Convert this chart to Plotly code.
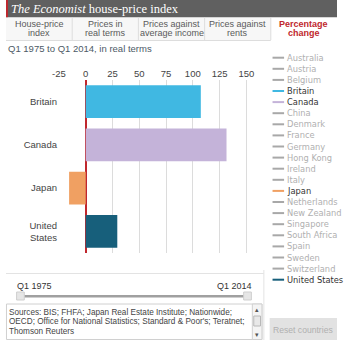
import plotly.graph_objects as go

W, H = 344, 340

countries = ["Britain", "Canada", "Japan", "United States"]
country_labels = ["Britain", "Canada", "Japan", "United<br>States"]
pct_change = [107.5, 131.5, -15.5, 29.5]
bar_colors = ["#40b8e2", "#c4b3d9", "#f0a062", "#175f7b"]

x_ticks = [-25, 0, 25, 50, 75, 100, 125, 150]

legend_names = ["Australia", "Austria", "Belgium", "Britain", "Canada", "China",
                "Denmark", "France", "Germany", "Hong Kong", "Ireland", "Italy",
                "Japan", "Netherlands", "New Zealand", "Singapore", "South Africa",
                "Spain", "Sweden", "Switzerland", "United States"]
active_colors = {"Britain": "#40b8e2", "Canada": "#c4b3d9", "Japan": "#f0a062",
                 "United States": "#175f7b"}

tabs = [("House-price", "index"), ("Prices in", "real terms"), ("Prices against", "average income"),
        ("Prices against", "rents"), ("Percentage", "change")]

sources_lines = ["Sources: BIS; FHFA; Japan Real Estate Institute; Nationwide;",
                 "OECD; Office for National Statistics; Standard &amp; Poor's; Teratnet;",
                 "Thomson Reuters"]

FONT = "Liberation Sans"
LFONT = "DejaVu Sans"


def xp(px):
    return px / W


def yp(py):
    return 1 - py / H


fig = go.Figure()
fig.add_trace(go.Bar(
    x=pct_change, y=countries, orientation="h",
    marker=dict(color=bar_colors, line=dict(width=0)),
    width=0.76, hoverinfo="skip",
))

shapes = []
annotations = []


def txt(x, y, s, size, color, family=FONT, xanchor="left"):
    annotations.append(dict(xref="paper", yref="paper", x=xp(x), y=yp(y), xanchor=xanchor, yanchor="middle",
                            showarrow=False, text=s, borderpad=0,
                            font=dict(family=family, size=size, color=color)))


# header
shapes.append(dict(type="rect", xref="paper", yref="paper", x0=0, x1=1, y0=yp(17.5), y1=1,
                   fillcolor="#606060", line=dict(width=0), layer="below"))
shapes.append(dict(type="rect", xref="paper", yref="paper", x0=0, x1=xp(2), y0=yp(17.5), y1=1,
                   fillcolor="#c0272d", line=dict(width=0), layer="below"))
txt(4, 9, "<i>The Economist</i> house-price index", 12.5, "#ffffff", family="Liberation Serif")

# tabs
tw = W / 5
for i, (l1, l2) in enumerate(tabs):
    active = i == 4
    shapes.append(dict(type="rect", xref="paper", yref="paper", x0=xp(i * tw), x1=xp((i + 1) * tw),
                       y0=yp(40), y1=yp(17.5), fillcolor="#ffffff" if active else "#f7f7f7",
                       line=dict(width=0), layer="below"))
    if i > 0:
        shapes.append(dict(type="line", xref="paper", yref="paper", x0=xp(i * tw), x1=xp(i * tw),
                           y0=yp(40), y1=yp(17.5), line=dict(color="#dddddd", width=1)))
    col = "#c0272d" if active else "#5a5a5a"
    for j, line in enumerate((l1, l2)):
        txt(i * tw + tw / 2, 24.5 + 9 * j, ("<b>%s</b>" % line) if active else line, 9, col, xanchor="center")
shapes.append(dict(type="line", xref="paper", yref="paper", x0=0, x1=xp(4 * tw), y0=yp(40.5), y1=yp(40.5),
                   line=dict(color="#dddddd", width=1)))

# subtitle
txt(1, 49, "Q1 1975 to Q1 2014, in real terms", 9.5, "#4d5a66")

# right legend list
for k, name in enumerate(legend_names):
    yy = 57.7 + k * 11.1
    col = active_colors.get(name, "#a8a8a8")
    shapes.append(dict(type="line", xref="paper", yref="paper", x0=xp(277), x1=xp(289),
                       y0=yp(yy), y1=yp(yy), line=dict(color=col, width=2)))
    txt(291.5, yy, name, 8.3, "#333333" if name in active_colors else "#b0b0b0", family=LFONT)

# vertical separator between chart and legend
shapes.append(dict(type="line", xref="paper", yref="paper", x0=xp(268), x1=xp(268), y0=yp(340), y1=yp(270),
                   line=dict(color="#e3e3e3", width=1)))

# slider area
shapes.append(dict(type="line", xref="paper", yref="paper", x0=0, x1=xp(268), y0=yp(273.5), y1=yp(273.5),
                   line=dict(color="#e3e3e3", width=1)))
txt(10, 286, "Q1 1975", 9, "#333333")
txt(257, 286, "Q1 2014", 9, "#333333", xanchor="right")
shapes.append(dict(type="rect", xref="paper", yref="paper", x0=xp(15), x1=xp(253), y0=yp(297.5), y1=yp(295),
                   fillcolor="#a0a0a0", line=dict(width=0)))
for hx in (11, 247):
    shapes.append(dict(type="rect", xref="paper", yref="paper", x0=xp(hx), x1=xp(hx + 8), y0=yp(300), y1=yp(292),
                       fillcolor="#e6e6e6", line=dict(color="#cfcfcf", width=1)))

# sources box
shapes.append(dict(type="rect", xref="paper", yref="paper", x0=xp(0.5), x1=xp(266), y0=yp(339.5), y1=yp(304),
                   fillcolor="#ffffff", line=dict(color="#d0d0d0", width=1)))
shapes.append(dict(type="rect", xref="paper", yref="paper", x0=xp(256), x1=xp(266), y0=yp(339.5), y1=yp(304),
                   fillcolor="#f4f4f4", line=dict(color="#d0d0d0", width=1)))
shapes.append(dict(type="rect", xref="paper", yref="paper", x0=xp(257.5), x1=xp(264.5), y0=yp(326), y1=yp(316),
                   fillcolor="#e8e8e8", line=dict(color="#b8b8b8", width=1)))
txt(261, 309, "▴", 7, "#555555", xanchor="center")
txt(261, 334, "▾", 7, "#555555", xanchor="center")
for j, line in enumerate(sources_lines):
    txt(2, 312 + 9.5 * j, line, 8.2, "#444444")

# reset button
shapes.append(dict(type="rect", xref="paper", yref="paper", x0=xp(274), x1=1, y0=0, y1=yp(318),
                   fillcolor="#e2e2e2", line=dict(width=0)))
txt(309, 329.5, "Reset countries", 8.6, "#b0b0b0", xanchor="center")

fig.update_layout(
    width=W, height=H,
    margin=dict(l=0, r=0, t=0, b=0),
    paper_bgcolor="#ffffff", plot_bgcolor="#ffffff",
    showlegend=False,
    bargap=0.24,
    shapes=shapes, annotations=annotations,
    xaxis=dict(domain=[xp(54), xp(251)], range=[-25.9, 151.1], side="top",
               tickvals=x_ticks, ticktext=[str(v) for v in x_ticks],
               showgrid=True, gridcolor="#dcdcdc", gridwidth=1,
               zeroline=True, zerolinecolor="#c0272d", zerolinewidth=2,
               showline=False, ticks="", tickfont=dict(family=FONT, size=9.5, color="#444444"),
               fixedrange=True),
    yaxis=dict(domain=[yp(253), yp(80)], autorange="reversed",
               tickvals=countries, ticktext=country_labels,
               showgrid=False, zeroline=False, showline=False, ticks="",
               tickfont=dict(family=FONT, size=9.5, color="#444444"), fixedrange=True),
)

fig.write_html("out.html")
